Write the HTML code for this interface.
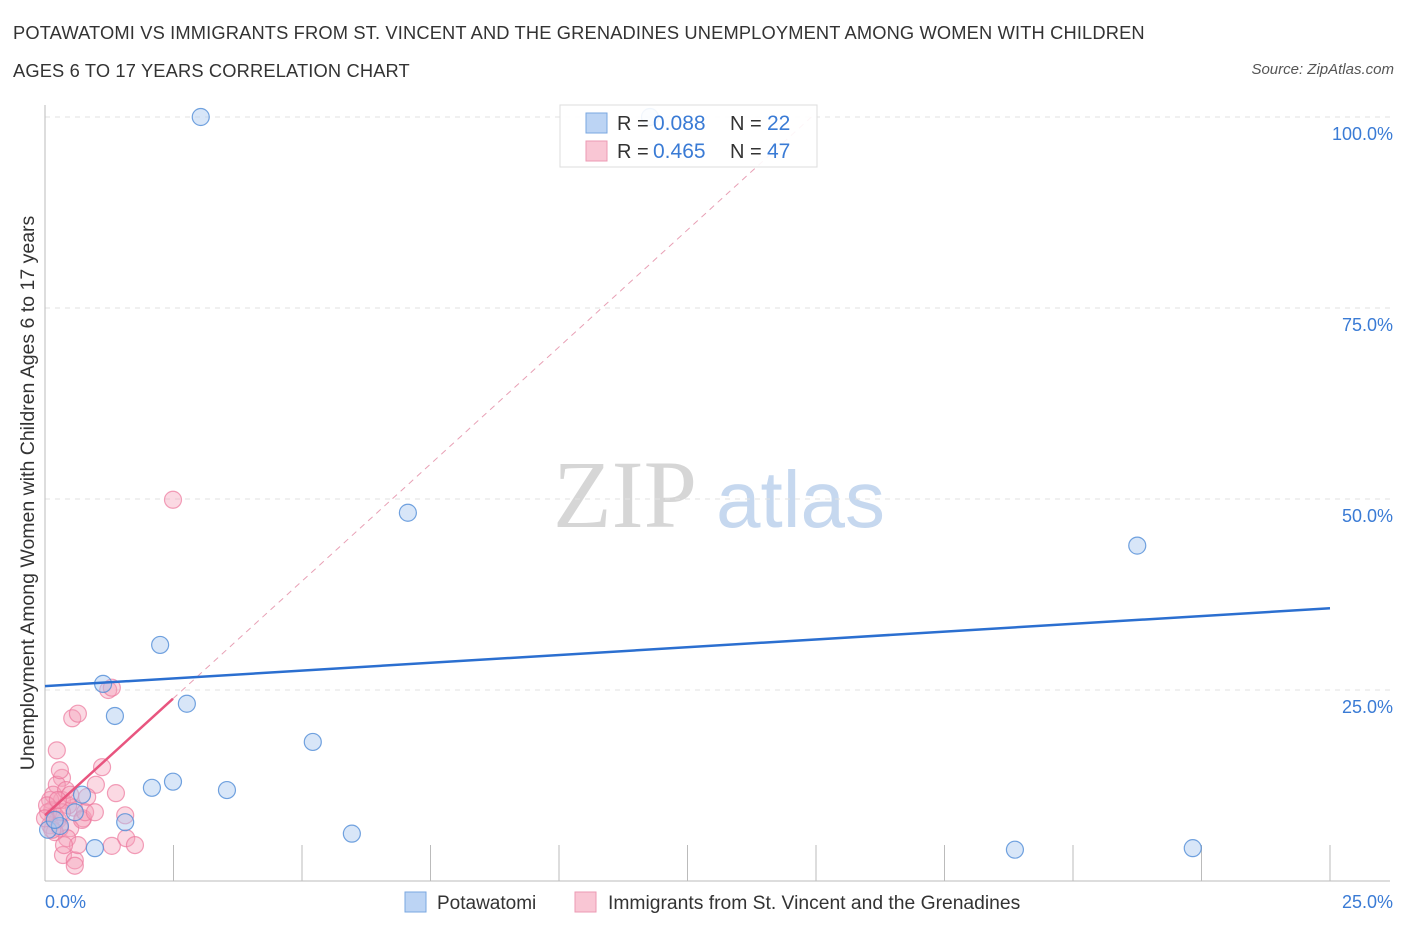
<!DOCTYPE html>
<html><head><meta charset="utf-8"><style>
body{margin:0;background:#fff;font-family:"Liberation Sans",sans-serif;}
#wrap{position:relative;width:1406px;height:930px;overflow:hidden;}
.t{position:absolute;white-space:nowrap;}
</style></head><body>
<div id="wrap">
<div class="t" style="left:13px;top:14px;font-size:18.3px;letter-spacing:0.15px;color:#333;line-height:38px;">POTAWATOMI VS IMMIGRANTS FROM ST. VINCENT AND THE GRENADINES UNEMPLOYMENT AMONG WOMEN WITH CHILDREN<br>AGES 6 TO 17 YEARS CORRELATION CHART</div>
<div class="t" style="right:12px;top:61px;font-size:15px;color:#555;font-style:italic;">Source: ZipAtlas.com</div>
<svg id="chart" width="1406" height="930" style="position:absolute;left:0;top:0"></svg>
</div>
<script>
const blueX=[3.03,11.77,7.06,21.25,2.24,1.13,1.36,2.76,5.21,2.49,2.08,3.54,0.72,1.56,5.97,0.97,18.87,22.33,0.06,0.29,0.58,0.19];
const blueY=[100,100,48.2,43.9,30.9,25.8,21.6,23.2,18.2,13.0,12.2,11.9,11.3,7.7,6.2,4.3,4.1,4.3,6.7,7.2,9.0,8.0];
const pinkX=[2.49,1.23,1.30,0.53,0.64,0.23,1.11,0.33,0.23,0.99,1.38,0.56,0.82,0.33,0.10,0.14,0.45,0.19,0.25,0.74,1.56,0.49,0.10,0.29,0.06,1.58,0.43,1.30,1.75,0.35,0.58,0.58,0.72,0.16,0.41,0.29,0.78,0.04,0.19,0.64,0.33,0.49,0.14,0.25,0.97,0.0,0.37];
const pinkY=[49.9,25.0,25.3,21.3,21.9,17.1,14.9,13.5,12.6,12.6,11.5,9.6,11.0,10.6,10.6,9.3,9.9,8.6,8.0,8.2,8.6,6.9,7.3,6.9,9.0,5.6,5.6,4.6,4.7,3.4,2.7,2.0,8.0,11.3,11.9,14.5,9.0,9.9,6.4,4.7,9.0,11.3,6.7,10.6,9.0,8.2,4.7];
const blueTrend=[25.5,35.7]; // y at x=0 and x=25
const pinkTrend=[8.6,6.13]; // intercept, slope
const yTicks=[25,50,75,100];
const yTickLabels=["25.0%","50.0%","75.0%","100.0%"];
const xTickLabels=["0.0%","25.0%"];

const NS="http://www.w3.org/2000/svg";
const svg=document.getElementById('chart');
const X0=45,X1=1330,Y0=881,Y100=117;
const sx=v=>X0+(v/25)*(X1-X0);
const sy=v=>Y0-(v/100)*(Y0-Y100);
function mk(tag,attrs,parent){const e=document.createElementNS(NS,tag);for(const k in attrs)e.setAttribute(k,attrs[k]);(parent||svg).appendChild(e);return e;}

let wm=mk('text',{x:553,y:527,'font-size':96,'font-family':'Liberation Serif, serif',fill:'#d6d6d6'});
wm.textContent='ZIP';


let wm2=mk('text',{x:716,y:527,'font-size':80,'font-family':'Liberation Sans, sans-serif',fill:'#c6d8ef'});
wm2.textContent='atlas';



yTicks.forEach((v,i)=>{
  const g=mk('line',{x1:X0,x2:X1+60,y1:sy(v),y2:sy(v),stroke:'#e2e2e2','stroke-dasharray':'5,5'});
  
  
  const t=mk('text',{x:1393,y:sy(v)+23,'text-anchor':'end','font-size':18,fill:'#3a7bd5'});
  t.textContent=yTickLabels[i];
  
  
});
let ya=mk('line',{x1:X0,x2:X0,y1:105,y2:Y0,stroke:'#bbb'});


let xa=mk('line',{x1:X0,x2:X1+60,y1:Y0,y2:Y0,stroke:'#bbb'});


for(let i=0;i<=10;i++){
  const x=sx(i*2.5);
  const tk=mk('line',{x1:x,x2:x,y1:845,y2:Y0,stroke:'#bbb'});
  
  
}
[0,25].forEach((v,i)=>{
  const t=mk('text',{x:i?1393:45,y:908,'text-anchor':i?'end':'start','font-size':18,fill:'#3a7bd5'});
  t.textContent=xTickLabels[i];
  
  
});
let yt=mk('text',{x:0,y:0,'font-size':19.5,fill:'#333','text-anchor':'middle',transform:'translate(34,493) rotate(-90)'});
yt.textContent='Unemployment Among Women with Children Ages 6 to 17 years';



pinkX.forEach((x,i)=>{
  const c=mk('circle',{cx:sx(x),cy:sy(pinkY[i]),r:8.5,fill:'rgba(244,160,186,0.4)',stroke:'rgba(236,120,156,0.7)','stroke-width':1.2});
  
  
});
blueX.forEach((x,i)=>{
  const c=mk('circle',{cx:sx(x),cy:sy(blueY[i]),r:8.5,fill:'rgba(168,200,240,0.45)',stroke:'rgba(80,140,215,0.8)','stroke-width':1.2});
  
  
});
const pEnd=Math.max(...pinkX);
const xTop=(100-pinkTrend[0])/pinkTrend[1];
let pd=mk('line',{x1:sx(pEnd),y1:sy(pinkTrend[0]+pinkTrend[1]*pEnd),x2:sx(xTop),y2:sy(100),stroke:'#e8a0b5','stroke-width':1,'stroke-dasharray':'6,5'});


let pl=mk('line',{x1:sx(0),y1:sy(pinkTrend[0]),x2:sx(pEnd),y2:sy(pinkTrend[0]+pinkTrend[1]*pEnd),stroke:'#e8557f','stroke-width':2.5});


let bl=mk('line',{x1:sx(0),y1:sy(blueTrend[0]),x2:sx(25),y2:sy(blueTrend[1]),stroke:'#2b6fd0','stroke-width':2.5});



const lg=mk('g',{});


mk('rect',{x:560,y:105,width:257,height:62,fill:'rgba(255,255,255,0.9)',stroke:'#ddd'},lg);
[[0,'#bcd4f4','#7aa7e0','0.088','22'],[1,'#f9c6d4','#ec9ab3','0.465','47']].forEach(r=>{
  const y=123+r[0]*28;
  mk('rect',{x:586,y:y-10,width:21,height:20,fill:r[1],stroke:r[2]},lg);
  const a=mk('text',{x:617,y:y+7,'font-size':20,fill:'#333'},lg);a.textContent='R =';
  const b=mk('text',{x:653,y:y+7,'font-size':21,fill:'#3a7bd5'},lg);b.textContent=r[3];
  const c=mk('text',{x:730,y:y+7,'font-size':20,fill:'#333'},lg);c.textContent='N =';
  const d=mk('text',{x:767,y:y+7,'font-size':21,fill:'#3a7bd5'},lg);d.textContent=r[4];
});
const bl2=mk('g',{});


mk('rect',{x:405,y:892,width:21,height:20,fill:'#bcd4f4',stroke:'#7aa7e0'},bl2);
let l1=mk('text',{x:437,y:909,'font-size':19,fill:'#333'},bl2);l1.textContent='Potawatomi';
mk('rect',{x:575,y:892,width:21,height:20,fill:'#f9c6d4',stroke:'#ec9ab3'},bl2);
let l2=mk('text',{x:608,y:909,'font-size':19.3,fill:'#333'},bl2);l2.textContent='Immigrants from St. Vincent and the Grenadines';
</script>
</body></html>
